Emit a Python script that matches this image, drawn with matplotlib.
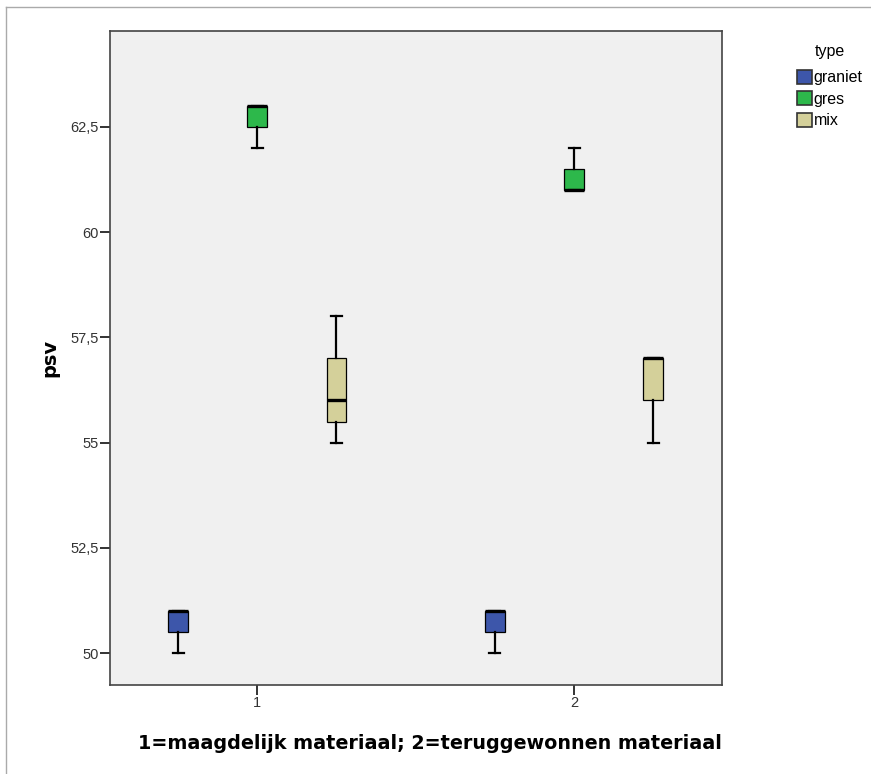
import matplotlib
matplotlib.use('Agg')
import matplotlib.pyplot as plt
from matplotlib.patches import Patch
from matplotlib.lines import Line2D

# psv per type, summary values for group 1 and group 2
groups = [1, 2]
types = ['graniet', 'gres', 'mix']
colors = ['#3D56AA', '#2DB84B', '#D4D09A']

whislo = {'graniet': [50, 50], 'gres': [62, 61], 'mix': [55, 55]}
q1 = {'graniet': [50.5, 50.5], 'gres': [62.5, 61], 'mix': [55.5, 56]}
med = {'graniet': [51, 51], 'gres': [63, 61], 'mix': [56, 57]}
q3 = {'graniet': [51, 51], 'gres': [63, 61.5], 'mix': [57, 57]}
whishi = {'graniet': [51, 51], 'gres': [63, 62], 'mix': [58, 57]}

yticks = [50, 52.5, 55, 57.5, 60, 62.5]
ytick_labels = ['50', '52,5', '55', '57,5', '60', '62,5']

plt.rcParams['font.family'] = ['Liberation Sans', 'DejaVu Sans']

fig = plt.figure(figsize=(8.71, 7.74), dpi=100)
ax = fig.add_axes([0.1263, 0.115, 0.7026, 0.845])
ax.set_facecolor('#F0F0F0')

offsets = [-0.25, 0, 0.25]
for t, col, off in zip(types, colors, offsets):
    stats = []
    for i in range(len(groups)):
        stats.append({'whislo': whislo[t][i], 'q1': q1[t][i], 'med': med[t][i],
                      'q3': q3[t][i], 'whishi': whishi[t][i], 'fliers': []})
    pos = [g + off for g in groups]
    ax.bxp(stats, positions=pos, widths=0.063, capwidths=0.035,
           patch_artist=True, showfliers=False, manage_ticks=False,
           boxprops=dict(facecolor=col, edgecolor='black', linewidth=0.9),
           medianprops=dict(color='black', linewidth=2.4, solid_capstyle='butt'),
           whiskerprops=dict(color='black', linewidth=1.6),
           capprops=dict(color='black', linewidth=1.6))

ax.set_xlim(0.535, 2.467)
ax.set_ylim(49.24, 64.78)
ax.set_xticks(groups)
ax.set_xticklabels([str(g) for g in groups])
ax.set_yticks(yticks)
ax.set_yticklabels(ytick_labels)
ax.tick_params(direction='out', length=7, width=1.4, color='#333333',
               labelsize=10.5, labelcolor='#333333', pad=1)
for s in ax.spines.values():
    s.set_color('#444444')
    s.set_linewidth(1.2)

ax.set_ylabel('psv', fontsize=14, fontweight='bold', family='DejaVu Sans')
ax.yaxis.set_label_coords(-0.082, 0.5)
ax.set_xlabel('1=maagdelijk materiaal; 2=teruggewonnen materiaal', fontsize=13.8,
              fontweight='bold', family='DejaVu Sans', labelpad=18)
ax.xaxis.set_label_coords(0.523, -0.075)

handles = [Patch(facecolor=c, edgecolor='#333333', linewidth=1.2) for c in colors]
leg = fig.legend(handles, types, title='type', loc='upper left',
                 bbox_to_anchor=(0.8985, 0.962), frameon=False,
                 handlelength=0.95, handleheight=0.95, handletextpad=0.1,
                 labelspacing=0.38, fontsize=11.5, title_fontsize=11.5)
leg._legend_box.align = 'left'
leg._legend_box.sep = 8
leg.get_title().set_position((18, 0))

# light outer frame on top and left
fig.add_artist(Line2D([6 / 871, 6 / 871], [0, 1 - 7 / 774], transform=fig.transFigure,
                      color='#AAAAAA', linewidth=1))
fig.add_artist(Line2D([6 / 871, 1], [1 - 7 / 774, 1 - 7 / 774], transform=fig.transFigure,
                      color='#AAAAAA', linewidth=1))

fig.savefig('out.png', dpi=100)
